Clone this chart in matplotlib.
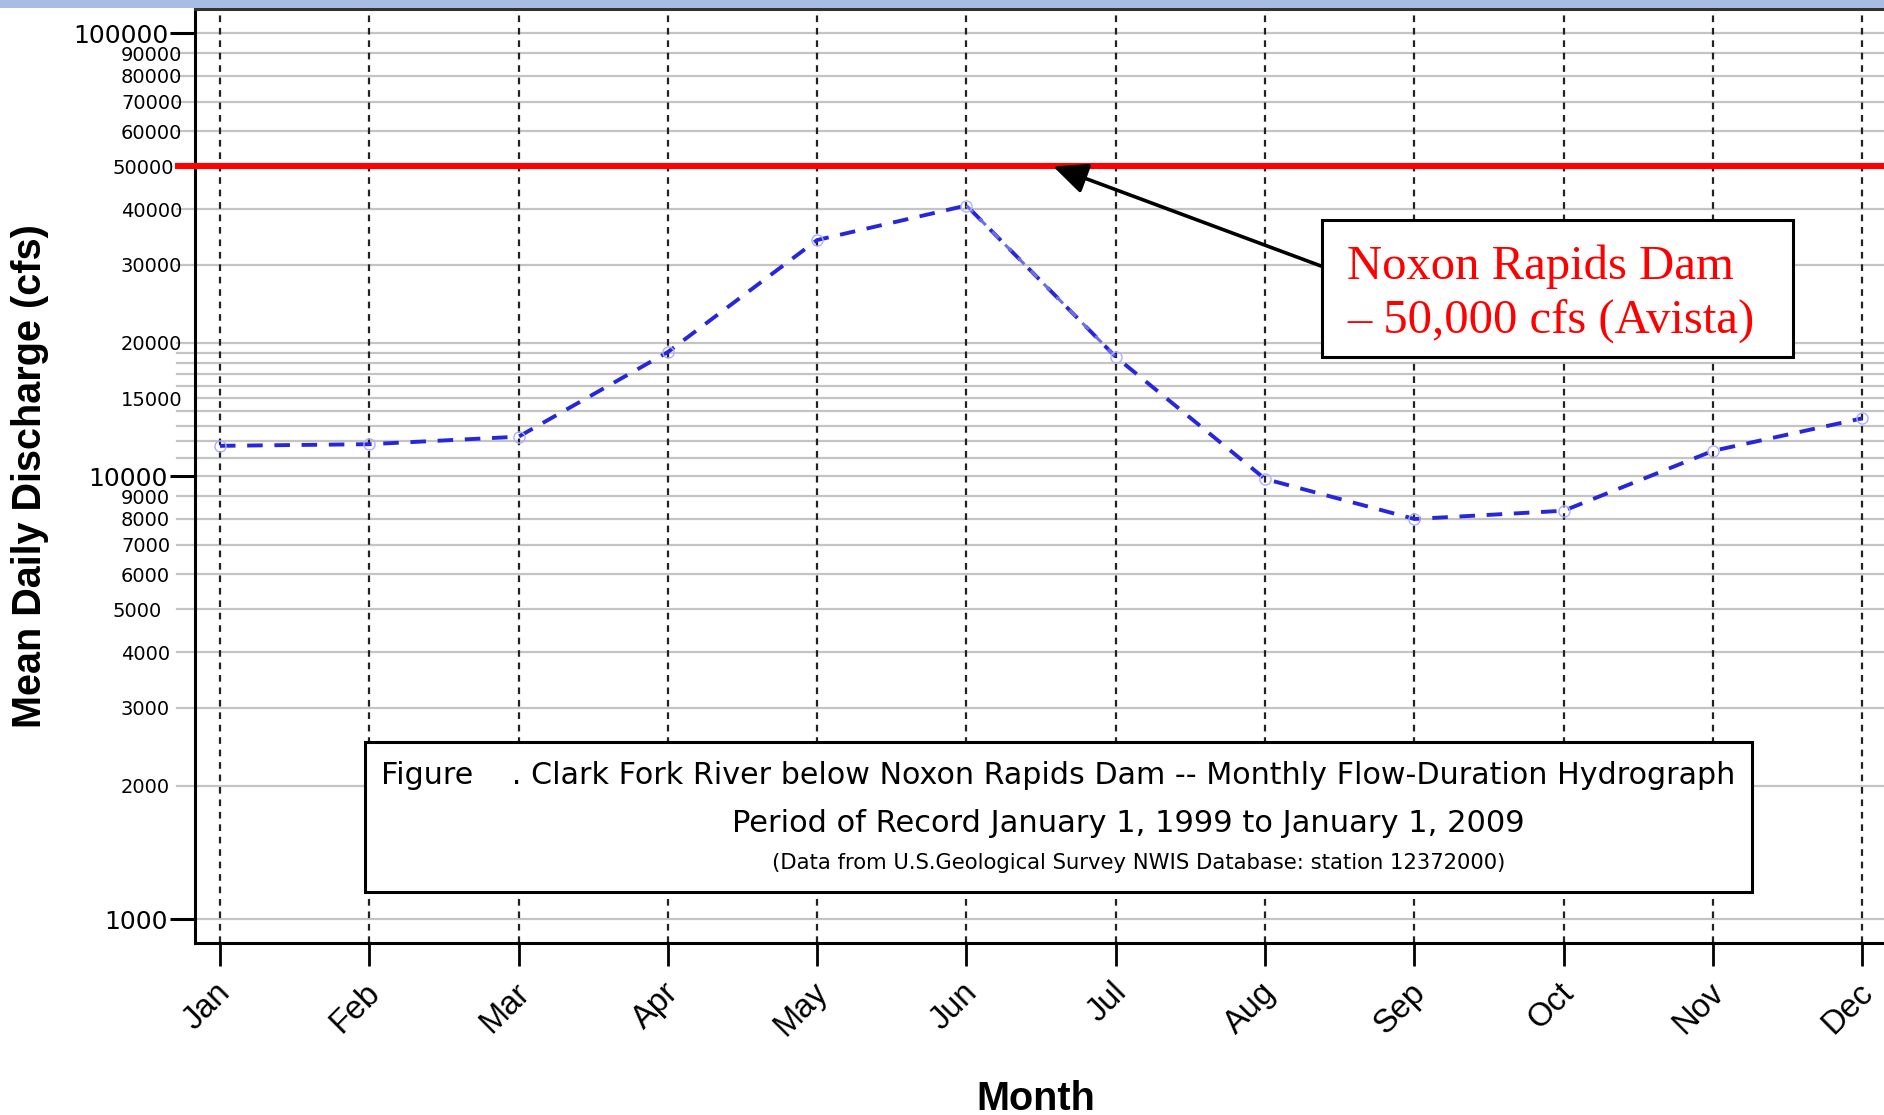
import matplotlib
matplotlib.use("Agg")
import matplotlib.pyplot as plt
import matplotlib.ticker as mticker
import matplotlib.transforms as mtrans
from matplotlib.patches import Rectangle
import numpy as np

months = ["Jan", "Feb", "Mar", "Apr", "May", "Jun", "Jul", "Aug", "Sep", "Oct", "Nov", "Dec"]
flow_cfs = [11700, 11800, 12270, 19050, 34100, 40800, 18570, 9850, 8000, 8350, 11400, 13500]
dam_capacity = 50000
major_ticks = [1000, 10000, 100000]
minor_ticks = [2000, 3000, 4000, 5000, 6000, 7000, 8000, 9000,
               15000, 20000, 30000, 40000, 50000, 60000, 70000, 80000, 90000]
fine_grid = [11000, 12000, 13000, 14000, 16000, 17000, 18000, 19000]

W, H = 1884, 1115
DPI = 100
PT = 72 / DPI  # points per pixel
fig = plt.figure(figsize=(W / DPI, H / DPI), dpi=DPI)
plt.rcParams['font.family'] = ['DejaVu Sans']

# top blue band
fig.patches.append(Rectangle((0, 1 - 8 / H), 1, 8 / H, transform=fig.transFigure,
                             facecolor="#a7bde3", edgecolor="none", zorder=0))

ax_left, ax_bottom, ax_top = 195 / W, (H - 943) / H, (H - 9) / H
ax = fig.add_axes([ax_left, ax_bottom, 1 - ax_left, ax_top - ax_bottom])
ax.set_yscale("log")
ax.set_ylim(883, 113300)
x = np.arange(len(months))
ax.set_xlim(-0.167, 11.145)

ax.spines["right"].set_visible(False)
for s in ["left", "bottom", "top"]:
    ax.spines[s].set_linewidth(2.2)
    ax.spines[s].set_color("black")
ax.spines["top"].set_color("#333333")

# y ticks
ax.yaxis.set_major_locator(mticker.FixedLocator(major_ticks))
ax.yaxis.set_major_formatter(mticker.FixedFormatter([str(v) for v in major_ticks]))
ax.yaxis.set_minor_locator(mticker.FixedLocator(minor_ticks))
ax.yaxis.set_minor_formatter(mticker.FixedFormatter([str(v) for v in minor_ticks]))
ax.tick_params(axis="y", which="major", length=25 * PT, width=2.2, color="black",
               labelsize=18, pad=2 * PT)
minor_pad = (195 - 121) * PT
ax.tick_params(axis="y", which="minor", length=0, labelsize=14, pad=minor_pad)
for i, tick in enumerate(ax.yaxis.get_minor_ticks(len(minor_ticks))):
    tick.label1.set_horizontalalignment("left")
    if minor_ticks[i] in (5000, 50000):
        tick._apply_params(pad=minor_pad + 9 * PT)
        tick.label1.set_horizontalalignment("left")

# horizontal grid lines (all log steps)
for v in major_ticks + minor_ticks + fine_grid:
    ax.axhline(v, color="#c4c4c4", lw=1.6, zorder=1)
    if v not in major_ticks and v not in (15000,):
        ax.plot([-0.287, -0.167], [v, v], color="#c4c4c4", lw=1.6,
                clip_on=False, zorder=1)

# x ticks
ax.set_xticks(x)
ax.set_xticklabels(months, rotation=45, ha="right", va="top", fontsize=23.5,
                   family=["Liberation Sans", "DejaVu Sans"])
ax.tick_params(axis="x", length=23 * PT, width=2, color="black", pad=11 * PT)
off = mtrans.ScaledTranslation(17 / DPI, 0, fig.dpi_scale_trans)
for lab in ax.get_xticklabels():
    lab.set_transform(lab.get_transform() + off)

# vertical dashed grid
for xi in x:
    ax.axvline(xi, color="#222222", lw=1.6, ls=(0, (3, 2.6)), zorder=2)

# red threshold line
ax.plot([-0.30, 11.145], [dam_capacity, dam_capacity], color="#ff0000", lw=4.4,
        solid_capstyle="butt", clip_on=False, zorder=4)

# data line
ax.plot(x, flow_cfs, color="#2626dc", lw=2.8, ls=(0, (4, 3)), zorder=5)
ax.plot(x[5:7], flow_cfs[5:7], color="#6f6fe4", lw=2.2, ls=(0, (3, 3)), zorder=6)
ax.plot(x, flow_cfs, ls="none", marker="o", ms=8, mfc="none", mec="#aab0ff",
        mew=1.0, zorder=7, clip_on=False)

ax.set_xlabel("Month", fontsize=28.5, fontweight="bold",
              family=["Liberation Sans", "DejaVu Sans"])
ax.xaxis.set_label_coords((1036 - 195) / (W - 195), -(1080 - 943) / (943 - 9))
ax.set_ylabel("Mean Daily Discharge (cfs)", fontsize=28.5, fontweight="bold",
              family=["Liberation Sans", "DejaVu Sans"])
ax.yaxis.set_label_coords(-(195 - 49) / (W - 195), (943 - 476) / (943 - 9))

# annotation box with arrow
tip_x = 5.58  # month units
box_l, box_r, box_t, box_b = 1322, 1793, 220, 357
fig.patches.append(Rectangle((box_l / W, 1 - box_b / H), (box_r - box_l) / W,
                             (box_b - box_t) / H, transform=fig.transFigure,
                             facecolor="white", edgecolor="black", lw=2.2, zorder=9))
fig.text(1347 / W, 1 - 279 / H, "Noxon Rapids Dam", fontsize=35, color="#ff0000",
         family=["Liberation Serif", "DejaVu Serif"], ha="left", va="baseline", zorder=10)
fig.text(1347 / W, 1 - 333 / H, "\u2013 50,000 cfs (Avista)", fontsize=35, color="#ff0000",
         family=["Liberation Serif", "DejaVu Serif"], ha="left", va="baseline", zorder=10)
ax.annotate("", xy=(tip_x, dam_capacity), xycoords="data",
            xytext=(box_l - 1, H - 266), textcoords="figure pixels",
            arrowprops=dict(arrowstyle="-|>,head_length=1.0,head_width=0.45",
                            mutation_scale=21, color="black", lw=2.6,
                            shrinkA=0, shrinkB=0),
            zorder=8)

# caption box
fig.patches.append(Rectangle((365 / W, (H - 892) / H), (1752 - 365) / W, (892 - 742) / H,
                             transform=fig.transFigure, facecolor="white",
                             edgecolor="black", lw=2.2, zorder=8))
fig.text(381 / W, 1 - 776 / H,
         "Figure    . Clark Fork River below Noxon Rapids Dam -- Monthly Flow-Duration Hydrograph",
         fontsize=21.7, ha="left", va="center", zorder=9)
fig.text(1128 / W, 1 - 824 / H, "Period of Record January 1, 1999 to January 1, 2009",
         fontsize=22, ha="center", va="center", zorder=9)
fig.text(1139 / W, 1 - 863 / H,
         "(Data from U.S.Geological Survey NWIS Database: station 12372000)",
         fontsize=15.2, ha="center", va="center", zorder=9)

fig.savefig("out.png", dpi=DPI)
